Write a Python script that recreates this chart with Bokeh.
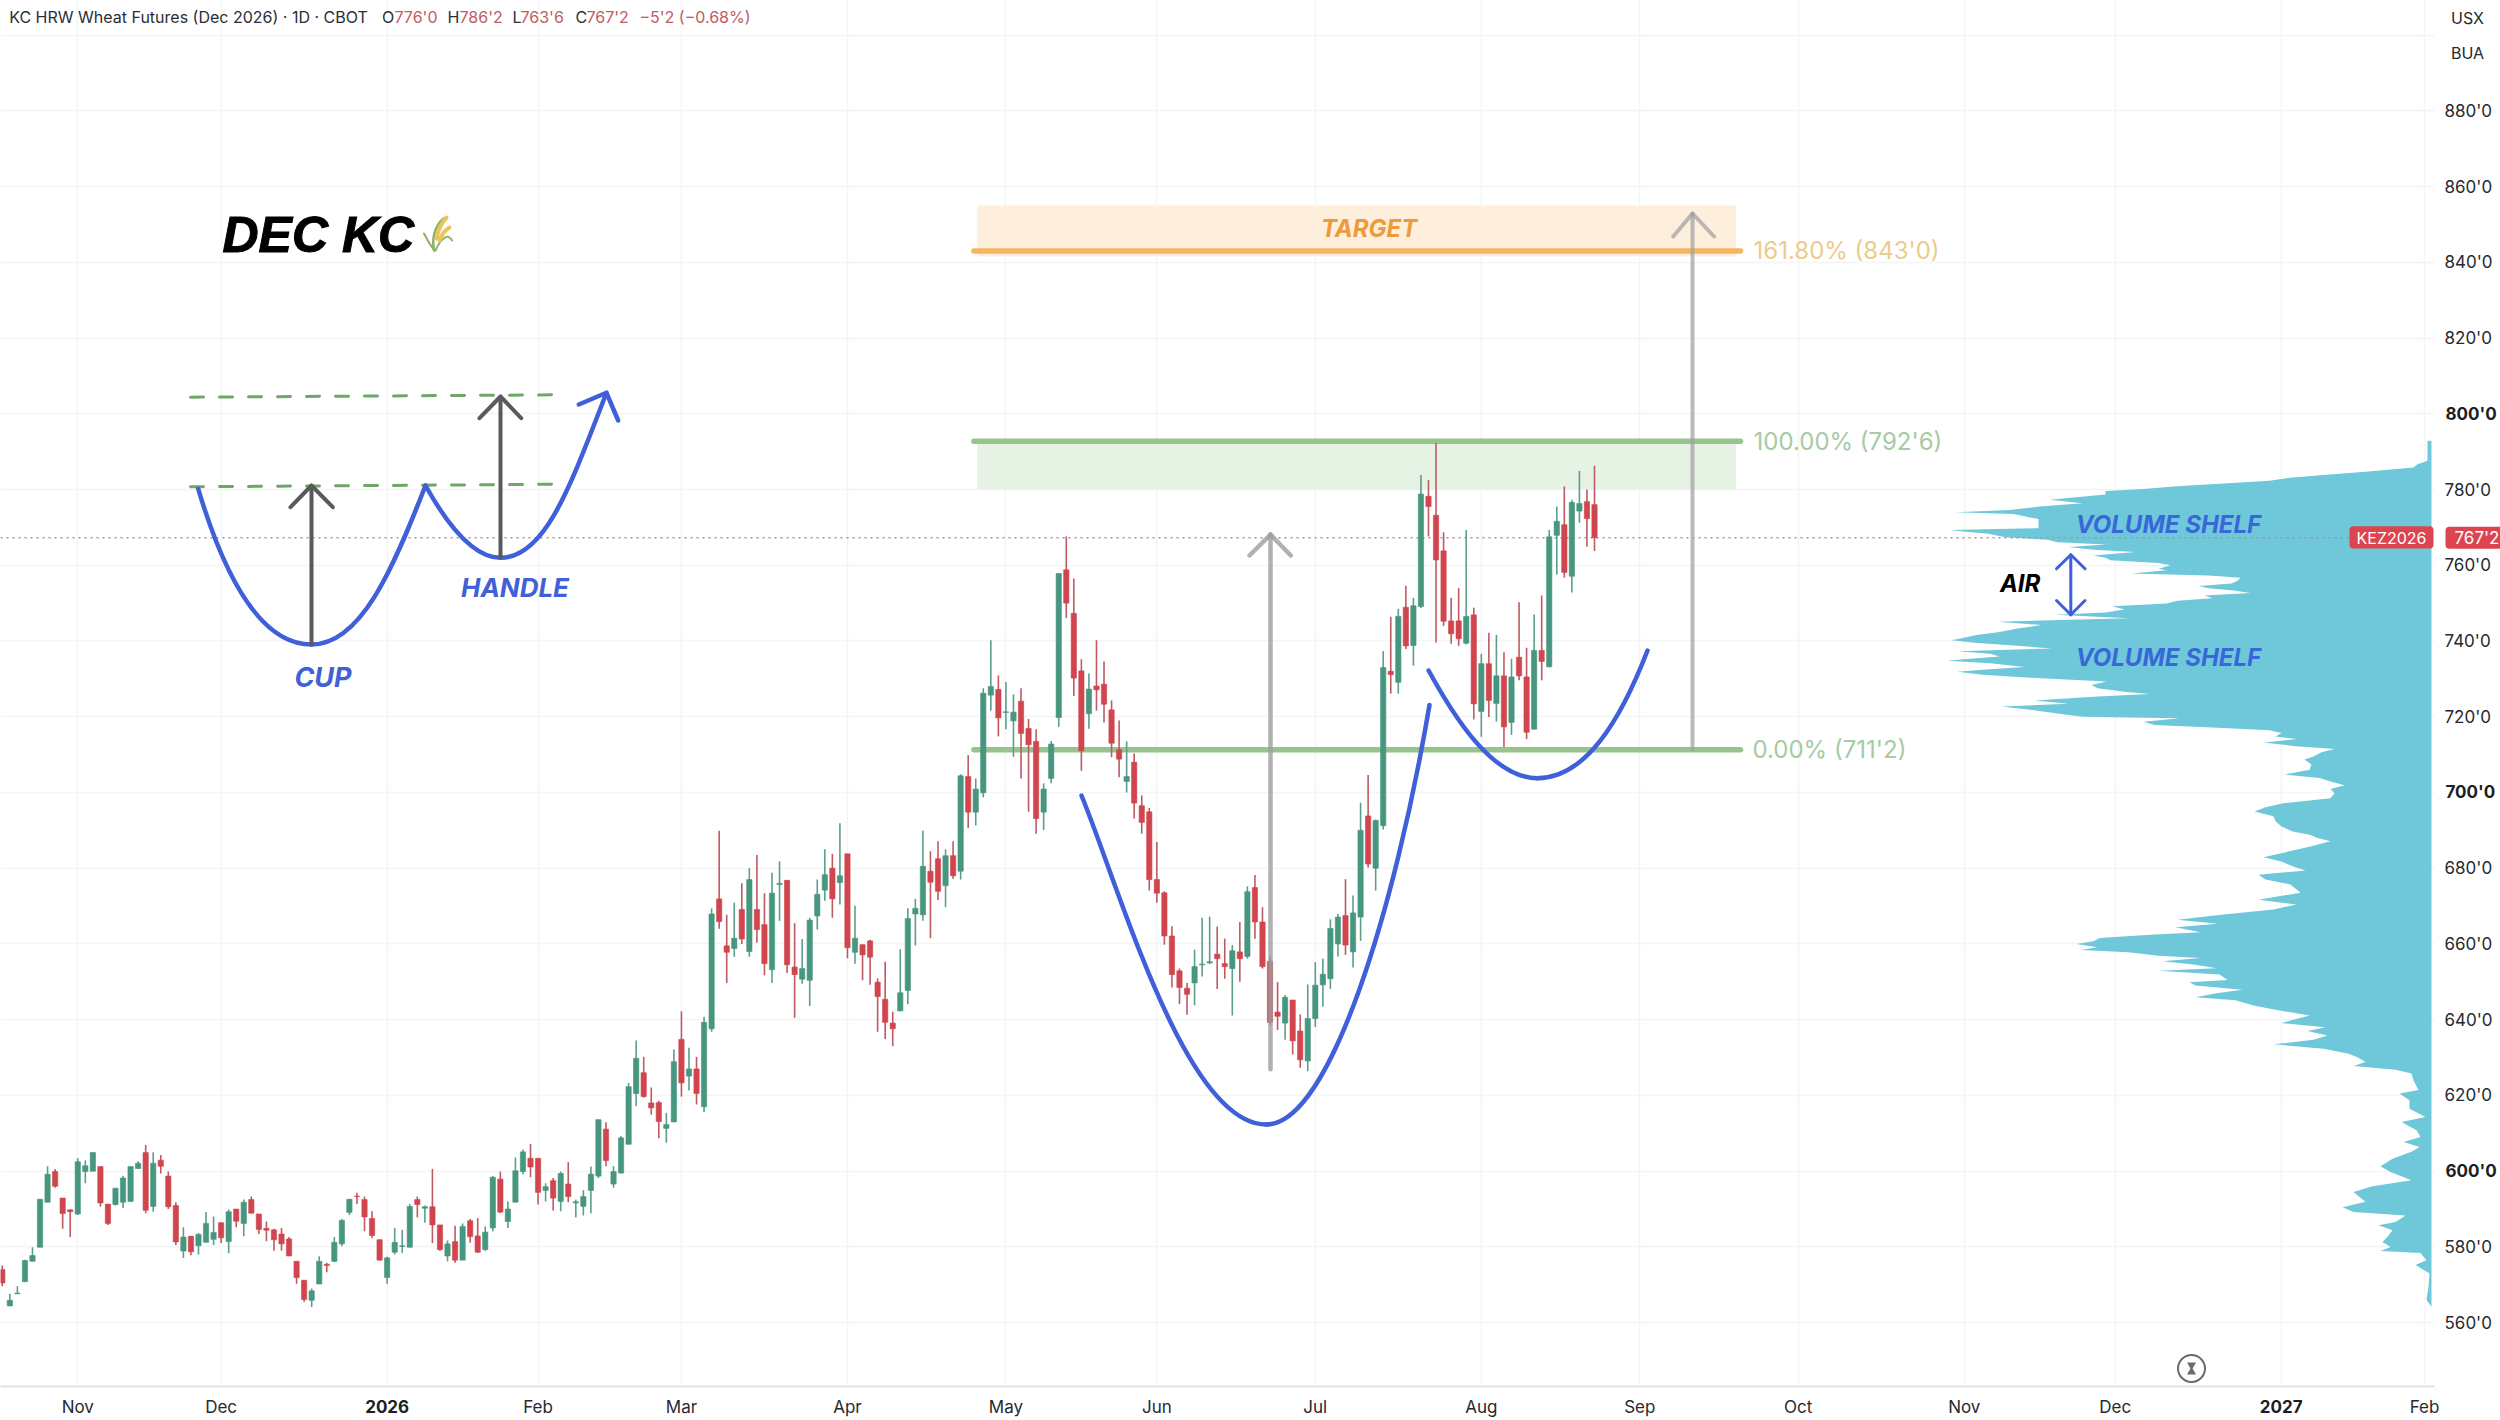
from bokeh.plotting import figure
from bokeh.models import Range1d, FixedTicker, Label, BoxAnnotation
from bokeh.embed import file_html
from bokeh.resources import INLINE

# ---- daily candles (KC HRW Dec 2026), cents/bu ----
opens = [
574.0,564.4,567.6,570.8,576.2,579.9,591.8,599.9,592.9,589.8,
588.7,599.9,600.0,601.2,591.3,591.2,591.8,592.0,600.7,604.9,
590.7,602.9,598.7,590.9,578.9,582.8,580.3,581.2,582.0,586.4,
581.4,590.0,586.2,592.5,588.7,584.9,584.5,583.4,582.1,576.2,
571.2,565.9,570.2,575.4,576.2,580.8,589.1,593.4,592.5,587.5,
581.9,571.9,578.6,580.1,579.9,592.5,590.2,590.6,585.8,577.6,
581.4,576.5,586.9,582.9,579.3,585.0,597.9,586.7,591.8,599.9,
603.4,603.4,594.9,597.5,592.0,596.6,591.6,590.7,594.9,598.7,
611.1,596.6,599.5,607.1,620.5,626.0,618.0,618.1,611.3,613.0,
634.8,625.1,627.0,617.0,637.6,671.9,659.5,658.8,669.1,658.0,
669.1,665.1,653.2,675.7,676.8,653.9,650.7,650.4,667.4,674.2,
680.0,676.2,683.8,657.8,659.8,660.8,649.9,645.4,639.1,642.3,
647.7,667.9,667.7,679.2,682.5,675.4,683.3,679.2,704.2,694.8,
699.9,725.7,727.2,721.1,718.9,724.1,716.9,713.5,694.8,703.7,
719.8,758.8,747.3,732.1,720.8,728.1,728.6,721.8,711.3,702.9,
708.0,696.5,694.9,677.0,673.5,662.1,652.9,648.3,649.7,654.5,
655.0,657.3,654.8,653.5,657.9,656.7,674.9,665.8,655.4,642.0,
639.1,645.2,637.0,629.1,640.3,649.2,650.8,660.0,667.5,657.9,
667.1,693.8,680.0,691.2,732.0,729.1,748.9,738.8,749.1,778.2,
773.2,763.8,745.3,745.3,739.4,746.9,721.4,734.0,723.5,730.8,
718.5,735.7,730.5,716.7,737.5,733.2,767.9,770.7,757.1,774.3,
776.8,776.0]
closes = [
570.5,565.9,567.8,576.4,577.7,592.6,599.2,596.0,588.8,589.3,
602.5,601.4,604.9,591.6,586.2,595.5,598.2,601.2,602.1,589.7,
602.1,601.3,590.6,581.3,582.6,578.7,583.3,586.2,583.8,582.4,
589.3,586.8,591.8,588.9,584.6,584.4,581.9,580.8,577.6,571.9,
566.1,568.4,576.2,575.1,581.2,587.0,592.6,593.3,587.9,583.0,
576.5,577.1,581.2,580.3,590.7,591.2,590.6,585.8,579.3,580.8,
576.5,585.4,582.7,578.6,583.9,598.4,589.2,590.0,600.1,605.1,
601.1,594.4,595.9,592.9,599.4,593.3,591.9,593.3,599.2,613.6,
602.8,599.9,608.8,622.3,629.8,619.7,616.7,613.1,612.3,628.9,
623.3,627.0,620.5,639.3,667.9,665.9,657.8,661.5,661.3,677.0,
663.8,654.8,673.4,676.0,654.5,651.9,653.5,666.3,673.1,678.3,
671.9,678.0,659.0,661.5,657.1,656.5,646.1,639.3,637.6,647.1,
666.7,669.4,680.5,676.3,673.9,683.3,678.0,704.4,694.8,700.9,
726.2,728.0,719.7,721.3,721.2,715.6,712.6,693.1,700.9,712.8,
757.8,750.0,730.2,711.0,727.3,727.1,723.3,713.0,708.8,704.2,
697.2,692.1,677.0,673.4,662.1,651.9,648.5,646.7,654.0,654.7,
655.3,656.1,654.0,658.2,656.1,673.8,665.8,654.0,639.3,640.9,
645.9,634.4,629.4,640.3,649.1,652.0,664.1,667.1,659.7,668.2,
690.0,681.1,692.6,733.0,731.1,746.5,738.7,749.3,778.8,775.5,
761.4,745.2,741.9,740.6,746.5,723.4,734.0,724.3,730.8,717.3,
730.5,730.8,715.9,737.5,734.6,767.5,771.6,758.1,776.6,776.3,
772.3,767.25]
highs = [
575.1,567.6,569.6,576.6,579.9,592.6,601.3,600.6,592.9,589.8,
603.4,602.9,604.9,601.2,591.3,595.5,598.8,601.2,602.6,606.9,
605.0,604.3,599.9,591.8,585.2,582.8,583.7,589.2,588.0,586.4,
589.9,590.0,592.5,593.3,588.7,586.7,584.8,585.0,582.6,576.2,
571.2,569.0,577.5,575.8,582.6,587.4,592.6,594.3,593.3,589.4,
581.9,577.4,585.0,584.5,591.3,593.3,590.9,600.6,585.8,581.7,
585.6,586.2,587.4,587.6,585.4,598.7,599.9,592.0,603.6,605.7,
607.2,603.4,596.8,598.2,599.9,602.4,592.5,595.0,601.2,613.6,
612.9,601.3,609.3,623.3,634.5,630.2,622.1,618.6,615.4,632.1,
642.2,632.6,630.2,640.8,669.4,689.9,667.7,670.9,676.0,680.0,
683.5,673.4,678.8,681.8,676.8,665.5,661.3,666.9,677.0,685.0,
683.8,691.9,683.8,670.1,659.8,661.1,650.9,655.3,642.1,658.6,
669.4,671.9,689.9,684.5,687.1,685.0,687.1,704.8,709.8,703.7,
727.5,740.2,730.9,729.2,725.9,727.5,719.4,716.7,702.4,713.6,
757.8,767.6,756.5,735.2,731.4,740.2,734.6,724.3,719.0,713.5,
710.3,699.2,695.9,686.9,673.9,664.7,653.5,649.7,658.5,666.9,
667.2,664.6,661.4,659.7,665.8,675.2,678.2,669.7,656.7,649.9,
646.5,645.2,641.4,649.3,655.2,656.1,666.5,667.9,677.1,672.8,
697.3,704.6,692.9,737.3,746.4,748.5,754.6,751.4,783.8,782.5,
792.3,768.7,751.4,754.0,769.3,748.8,736.6,742.2,741.6,737.0,
735.3,750.2,738.2,747.0,752.0,769.3,775.5,780.8,777.3,784.9,
780.0,786.25]
lows = [
569.6,564.4,567.6,570.8,576.2,579.9,591.8,595.6,584.8,582.6,
588.4,596.8,600.0,590.6,585.8,590.9,590.3,592.0,600.7,588.9,
589.3,599.4,590.0,580.5,577.1,577.8,578.0,581.2,580.5,581.0,
578.3,585.2,582.8,588.9,583.4,581.5,579.0,579.0,577.6,570.3,
565.5,564.1,570.2,573.3,576.0,580.2,588.4,591.3,584.1,582.3,
576.4,570.3,578.0,578.4,579.9,587.8,586.4,581.0,578.9,576.2,
575.8,576.5,581.1,578.4,578.9,584.1,588.9,585.0,591.8,599.2,
598.4,591.2,592.0,589.6,589.4,591.8,587.8,588.3,588.9,598.2,
601.3,595.6,599.4,607.1,617.2,619.4,614.9,608.7,607.5,613.0,
619.7,621.3,617.6,615.6,636.8,664.0,649.7,656.6,660.0,656.6,
660.3,651.7,649.7,666.1,652.3,640.5,649.5,643.6,663.8,671.4,
666.9,670.4,656.2,654.8,650.4,649.2,636.8,634.9,633.0,642.3,
644.1,659.6,666.1,661.5,671.6,669.7,677.2,677.0,690.6,691.3,
698.7,721.6,714.8,716.7,709.4,703.7,694.9,689.1,690.1,702.4,
717.3,746.1,725.5,705.7,716.8,721.6,718.5,709.3,704.0,700.0,
693.1,689.1,674.1,670.9,659.8,648.5,644.1,641.3,643.8,651.4,
654.7,648.1,650.8,641.1,650.0,656.1,661.4,653.5,638.5,637.3,
634.7,630.8,627.3,626.4,638.1,643.4,648.1,656.7,657.1,653.8,
660.8,680.2,674.1,690.2,726.1,726.1,737.9,733.5,748.7,767.6,
739.6,744.0,739.3,738.7,739.1,719.3,714.7,719.9,718.7,712.0,
715.2,729.6,714.1,716.7,729.6,733.0,757.5,756.7,752.8,771.2,
764.9,763.75]

# ---- volume profile: price level and relative volume ----
vp_price = [
792.9,787.6,786.7,785.8,784.7,783.8,783.2,782.3,781.6,780.8,780.1,779.6,778.7,777.3,776.4,775.5,774.6,774.0,773.5,772.8,
772.2,770.9,769.8,769.3,768.9,768.3,767.4,766.7,766.1,765.5,764.8,764.1,763.5,762.6,762.0,761.3,760.6,760.0,759.1,758.7,
757.8,757.3,756.7,755.9,755.2,754.5,753.9,753.3,752.7,752.0,751.3,750.6,749.9,749.2,748.3,747.5,746.9,746.0,745.1,744.2,
743.3,742.4,741.6,740.7,740.2,739.5,738.7,738.0,737.3,736.6,735.9,735.2,734.8,734.1,733.1,732.4,731.9,731.1,730.2,729.3,
728.4,727.5,726.6,726.0,725.3,724.3,723.4,722.7,721.8,720.9,720.0,719.6,718.7,717.8,717.0,716.4,715.7,714.8,714.1,713.2,
712.3,711.5,710.6,709.5,708.7,707.4,706.0,704.7,703.8,702.9,701.9,700.9,699.8,698.5,697.2,696.1,695.0,693.7,692.4,691.0,
689.7,688.8,688.0,687.1,685.8,684.4,682.9,681.8,680.5,679.4,678.3,677.0,675.7,673.5,671.7,670.4,669.1,667.8,666.4,665.3,
664.4,663.1,662.5,661.6,660.7,660.0,659.1,658.4,657.8,656.9,656.3,655.4,654.6,653.6,652.9,651.9,650.5,649.9,649.0,647.9,
647.0,645.9,645.1,643.7,642.6,641.1,639.9,639.1,638.0,637.0,635.8,634.7,633.5,632.3,631.0,630.1,628.8,627.8,626.8,625.8,
624.0,621.4,620.5,618.7,616.5,614.3,613.0,610.8,609.0,607.7,606.4,605.1,603.3,601.3,599.8,597.6,596.0,594.5,593.2,591.9,
590.5,589.2,588.3,586.6,585.7,584.4,583.0,581.3,580.0,578.9,578.4,576.5,575.2,573.0,569.5,566.0,564.2]
vp_volume = [
4,4,14,18,66,108,139,162,208,258,288,326,326,382,349,392,422,476,418,405,
393,393,393,481,468,443,426,384,374,325,363,338,296,338,326,321,273,261,273,265,
300,223,191,194,200,233,223,198,181,227,219,254,265,319,307,326,376,303,434,390,
414,432,455,470,480,457,411,380,474,441,432,468,484,441,407,449,474,449,395,325,
340,334,307,282,338,397,363,430,399,376,349,252,288,277,208,162,150,156,135,168,
139,97,110,118,127,120,122,147,112,101,87,101,97,101,147,166,177,158,156,150,
139,122,114,101,120,143,168,150,139,126,173,166,141,131,173,135,158,208,254,214,
256,231,277,332,338,355,334,351,303,273,231,269,238,215,273,212,204,242,236,189,
215,236,196,177,156,122,139,150,106,124,104,118,158,108,83,74,66,78,36,20,
18,13,32,22,22,6,30,15,11,28,12,20,39,51,41,20,59,78,72,66,
89,78,26,36,53,39,43,49,41,51,11,5,16,2,3,5,0]

price_ticks = list(range(560, 901, 20))
bold_prices = [600, 700, 800]
month_ticks = [10, 29, 51, 71, 90, 112, 133, 153, 174, 196, 217, 238, 260, 280, 302, 321]
month_names = ["Nov", "Dec", "2026", "Feb", "Mar", "Apr", "May", "Jun", "Jul", "Aug",
               "Sep", "Oct", "Nov", "Dec", "2027", "Feb"]
bold_months = ["2026", "2027"]

fib_levels = [792.75, 711.25, 843.0]
fib_texts = ["100.00% (792'6)", "0.00% (711'2)", "161.80% (843'0)"]
last_price = 767.25

# pixel <-> data calibration (for the hand drawn overlays only)
def X(px): return (px - 1.8) / 7.546
def Y(py): return 780 + (489 - py) / 3.787
def PY(v): return 489 + (780 - v) * 3.787

FONT = "Inter"
GREEN, RED = "#479680", "#D0454E"
GREEN_W, RED_W = "#5C9E8A", "#BE5A62"
BLUE = "#3F60D8"
GRID = "#F3F4F6"

p = figure(frame_width=2434, frame_height=1386, output_backend="svg", toolbar_location=None,
           x_range=Range1d(X(0), X(2434)), y_range=Range1d(Y(1386), Y(0)),
           y_axis_location="right", min_border_left=0, min_border_top=0,
           min_border_right=66, min_border_bottom=34, background_fill_color="white",
           border_fill_color="white", outline_line_color=None)
p.extra_x_ranges = {"vol": Range1d(2431, 2431 - 2434)}

p.xaxis.ticker = FixedTicker(ticks=month_ticks)
p.yaxis.ticker = FixedTicker(ticks=price_ticks)
p.xaxis.major_label_overrides = {t: ("" if n in bold_months else n) for t, n in zip(month_ticks, month_names)}
p.yaxis.major_label_overrides = {t: ("" if (t in bold_prices or t == 900) else f"{t}'0") for t in price_ticks}
for ax in (p.xaxis, p.yaxis):
    ax.major_tick_line_color = None
    ax.minor_tick_line_color = None
    ax.major_label_text_font = FONT
    ax.major_label_text_font_size = "17px"
    ax.major_label_text_color = "#26292f"
p.yaxis.axis_line_color = None
p.yaxis.major_label_standoff = 4
p.xaxis.major_label_standoff = 4
p.xaxis.axis_line_color = "#DFE1E6"
p.xaxis.axis_line_width = 2
p.xgrid.grid_line_color = GRID
p.ygrid.grid_line_color = GRID
p.xgrid.grid_line_width = 1.5
p.ygrid.grid_line_width = 1.5
p.xgrid.ticker = FixedTicker(ticks=month_ticks)
p.ygrid.ticker = FixedTicker(ticks=price_ticks)


def txt(px, py, s, size, color, style="normal", align="left", font=FONT, outline=None):
    p.add_layout(Label(x=X(px), y=Y(py), text=s, text_font=font, text_font_size=f"{size}px",
                       text_color=color, text_font_style=style, text_align=align,
                       text_baseline="middle", text_outline_color=outline))


def ctxt(side, px, py, s, size, color, style="normal", align="left", **kw):
    # text outside the frame goes into a side panel, in canvas units
    p.add_layout(Label(x=px, y=py, x_units="canvas", y_units="canvas", text=s, text_font=FONT,
                       text_font_size=f"{size}px", text_color=color, text_font_style=style,
                       text_align=align, text_baseline="middle", **kw), side)


def seg(points, color, w=4, dash="solid", alpha=1.0):
    p.line([X(a) for a, _ in points], [Y(b) for _, b in points], line_color=color, line_width=w,
           line_cap="round", line_join="round", line_dash=dash, line_alpha=alpha)


def curve(p0, c0, c1, p1, color=BLUE, w=4.5):
    p.bezier(x0=[X(p0[0])], y0=[Y(p0[1])], x1=[X(p1[0])], y1=[Y(p1[1])],
             cx0=[X(c0[0])], cy0=[Y(c0[1])], cx1=[X(c1[0])], cy1=[Y(c1[1])],
             line_color=color, line_width=w, line_cap="round")


# zones
p.quad(left=X(976.8), right=X(1735.7), top=855, bottom=841.6, fill_color="#FDEFDC", line_color=None)
p.quad(left=X(976.8), right=X(1735.7), top=fib_levels[0], bottom=780, fill_color="#E6F2E4", line_color=None)

# volume profile
p.harea(y=vp_price, x1=[0] * len(vp_price), x2=vp_volume, x_range_name="vol", fill_color="#6EC8DA")

# last price line
p.line([X(0), X(2349)], [last_price, last_price], line_color="#B58C8C", line_width=1.5, line_dash="2 4")

# fib lines
seg([(973.4, PY(fib_levels[0])), (1740, PY(fib_levels[0]))], "#97C48E", 5.5)
seg([(973.4, PY(fib_levels[1])), (1740, PY(fib_levels[1]))], "#97C48E", 5.5)
seg([(973.4, PY(fib_levels[2])), (1740, PY(fib_levels[2]))], "#F5B661", 5.5)

# candles
idx = list(range(len(opens)))
up = [c >= o for o, c in zip(opens, closes)]
p.segment(idx, lows, idx, highs, line_width=1.6, line_color=[GREEN_W if u else RED_W for u in up])
p.vbar(x=idx, width=0.70, top=[max(o, c) for o, c in zip(opens, closes)],
       bottom=[min(o, c) for o, c in zip(opens, closes)],
       fill_color=[GREEN if u else RED for u in up], line_color=[GREEN if u else RED for u in up], line_width=0.6)

# small cup & handle sketch
for yy0, yy1 in [(396.7, 394.3), (486.3, 483.7)]:
    seg([(190, yy0), (560.7, yy1)], "#6FA768", 3, dash="13 16")
curve((197.7, 488.3), (225, 580), (262, 644), (311, 644))
curve((311, 644), (360, 644), (392, 570), (425, 485))
curve((425, 485), (450, 530), (475, 557.3), (500, 557.3))
curve((500, 557.3), (545, 557.3), (570, 485), (606, 392.3))
seg([(578.3, 404), (606, 392.3), (617.7, 420)], BLUE, 4.5)
DARK = "#5A5A5C"
seg([(311, 644), (311, 485)], DARK, 4)
seg([(290, 506.7), (311, 485), (332.3, 506.7)], DARK, 4)
seg([(500, 556.7), (500, 396)], DARK, 4)
seg([(479, 417.7), (500, 396), (520.7, 417.7)], DARK, 4)

# large cup & handle
curve((1081, 795), (1120, 890), (1185, 1124), (1265.7, 1124))
curve((1265.7, 1124), (1330, 1124), (1395, 905), (1429, 704.5))
curve((1428.1, 670), (1450, 710), (1490, 777.7), (1536.8, 777.7))
curve((1536.8, 777.7), (1585, 777.7), (1620, 720), (1647, 650))

# measured-move arrows
ARROW = "#9E9E9E"
seg([(1270, 1068.8), (1270, 534)], ARROW, 4.5, alpha=0.8)
seg([(1249, 555), (1270, 534), (1290.3, 555)], ARROW, 4.5, alpha=0.8)
seg([(1692, 749), (1692, 213)], ARROW, 4, alpha=0.7)
seg([(1672.7, 236), (1692, 213), (1713.6, 236)], ARROW, 4, alpha=0.7)

# AIR arrow
seg([(2070.3, 554.3), (2070.3, 614.3)], BLUE, 3)
seg([(2056, 568.3), (2070.3, 554.3), (2084.5, 568.3)], BLUE, 3)
seg([(2056, 600), (2070.3, 614.3), (2084.5, 600)], BLUE, 3)

# wheat sketch beside the title
curve((433.7, 250), (431, 238), (434, 226), (443, 218), "#8DB168", 2.5)
curve((433.7, 250), (428, 242), (426, 238), (423.5, 233), "#8DB168", 2)
curve((435, 250), (440, 238), (448, 232), (451.5, 240), "#8DB168", 2)
curve((436, 238), (438, 228), (441, 222), (446, 217), "#E9C65A", 4)
curve((439, 240), (441, 234), (444, 230), (449, 227), "#E9C65A", 4)

# hourglass marker
p.scatter([X(2191)], [Y(1368)], size=27, marker="circle", fill_color="white", line_color="#6B6B6B", line_width=2)
p.scatter([X(2191)], [Y(1364.5)], size=9, marker="inverted_triangle", fill_color="#6B6B6B", line_color=None)
p.scatter([X(2191)], [Y(1371.5)], size=9, marker="triangle", fill_color="#6B6B6B", line_color=None)

# texts
txt(222, 234, "DEC KC", 50, "#000000", "bold italic", font="Liberation Sans", outline="#000000")
txt(322.5, 677, "CUP", 27, BLUE, "bold italic", "center")
txt(514.5, 586.5, "HANDLE", 26, BLUE, "bold italic", "center")
txt(1368.6, 227.5, "TARGET", 24, "#EB9B3A", "bold italic", "center")
txt(2168, 523.5, "VOLUME SHELF", 24, "#3868D8", "bold italic", "center")
txt(2168, 657, "VOLUME SHELF", 24, "#3868D8", "bold italic", "center")
txt(2019.6, 582.6, "AIR", 24, "#000000", "bold italic", "center")
txt(1753, PY(fib_levels[2]), fib_texts[2], 24, "#EDCB8B")
txt(1753, PY(fib_levels[0]), fib_texts[0], 24, "#A6CBA0")
txt(1752, PY(fib_levels[1]), fib_texts[1], 24, "#A6CBA0")

# header
HEAD, HRED = "#2b2e36", "#C25A62"
txt(8.7, 16.5, "KC HRW Wheat Futures (Dec 2026) \u00b7 1D \u00b7 CBOT", 16, HEAD)
for px, s, c in [(381.6, "O", HEAD), (394, "776'0", HRED), (447, "H", HEAD), (459, "786'2", HRED),
                 (512, "L", HEAD), (520, "763'6", HRED), (575, "C", HEAD), (586, "767'2", HRED),
                 (639, "\u22125'2 (\u22120.68%)", HRED)]:
    txt(px, 16.5, s, 16, c)

# currency / unit
ctxt("right", 2467, 17, "USX", 16, "#26292f", align="center")
ctxt("right", 2467, 52, "BUA", 16, "#26292f", align="center")

# bold ticks
for v in bold_prices:
    ctxt("right", 2445, PY(v), f"{v}'0", 17, "#1c1e22", "bold")
for t, n in zip(month_ticks, month_names):
    if n in bold_months:
        ctxt("below", 1.8 + 7.546 * t, 1406, n, 17, "#1c1e22", "bold", "center")

# last price tag
p.add_layout(BoxAnnotation(left=X(2349), right=X(2433), top=Y(525.7), bottom=Y(548), fill_color="#DC4550",
                           fill_alpha=1, line_color=None, border_radius=4))
txt(2391, 537.3, "KEZ2026", 16, "#FFFFFF", align="center")
ctxt("right", 2445, 537.3, "767'2", 17, "#FFFFFF", background_fill_color="#DC4550",
     background_fill_alpha=1.0, padding=(9, 1), border_radius=4)

open("out.html", "w").write(file_html(p, INLINE))
